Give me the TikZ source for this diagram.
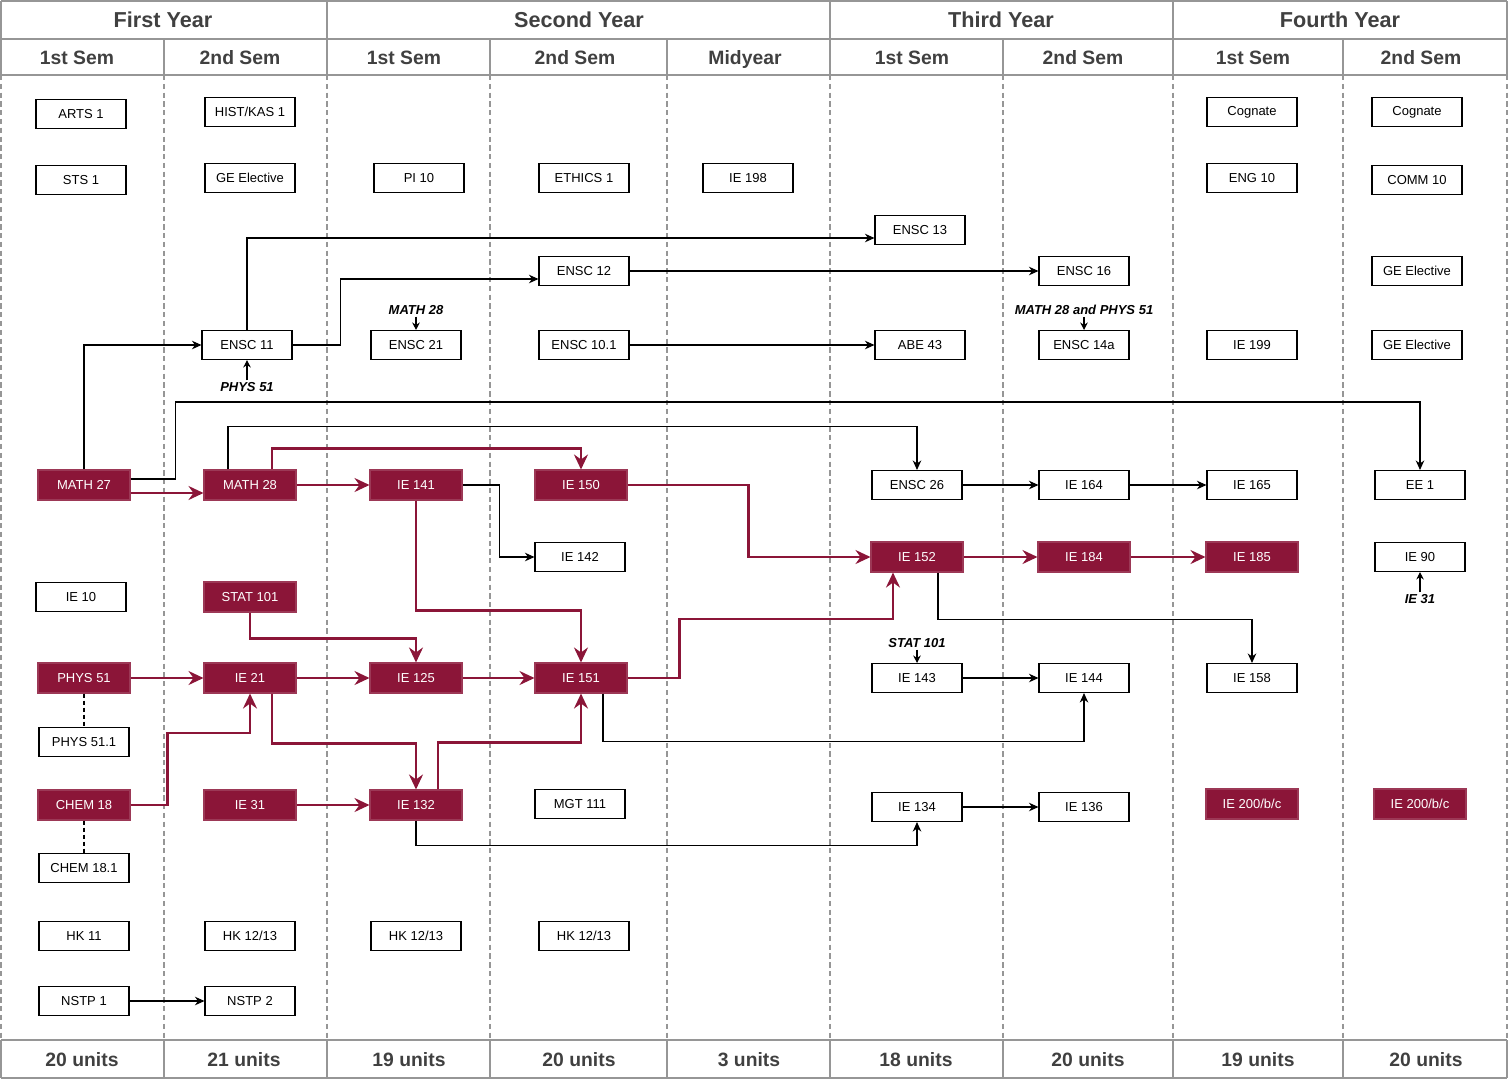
\documentclass[tikz,border=0pt]{standalone}
\usepackage{fontspec}
\setmainfont{Liberation Sans}
\usetikzlibrary{arrows.meta,calc}
\definecolor{maroon}{RGB}{139,21,56}
\definecolor{gridc}{RGB}{150,150,150}
\definecolor{headc}{RGB}{64,64,64}
\begin{document}
\begin{tikzpicture}[x=0.02cm,y=-0.02cm,
  course/.style={draw=black, line width=0.6pt, fill=white, minimum width=1.8cm, minimum height=0.58cm, inner sep=0pt, font=\fontsize{7.4}{9}\selectfont},
  core/.style={draw=maroon!85!white, line width=0.6pt, fill=maroon, text=white, minimum width=1.84cm, minimum height=0.6cm, inner sep=0pt, font=\fontsize{7.4}{9}\selectfont},
  lbl/.style={inner sep=1pt, font=\fontsize{7.4}{9}\selectfont\bfseries\itshape},
  yhead/.style={text=headc, text height=1.5ex, text depth=0.4ex, inner sep=0pt, font=\fontsize{12.3}{14}\selectfont\bfseries},
  shead/.style={text=headc, text height=1.5ex, text depth=0.4ex, inner sep=0pt, font=\fontsize{11}{13}\selectfont\bfseries},
  blk/.style={draw=black, line width=0.6pt, -{Stealth[length=1.9mm,width=1.7mm,inset=0.6mm]}},
  blkl/.style={draw=black, line width=0.6pt, -{Stealth[length=1.5mm,width=1.5mm,inset=0.5mm]}},
  rd/.style={draw=maroon, line width=1.3pt, -{Stealth[length=3mm,width=2.8mm,inset=1mm]}},
  solidg/.style={draw=gridc, line width=1pt},
  dashg/.style={draw=gridc, line width=0.8pt, dash pattern=on 3pt off 2pt}
]
\useasboundingbox (0,0) rectangle (1509,1080);
% ---------- grid ----------
\draw[solidg] (1,1) -- (1507,1) (1,39) -- (1507,39) (1,75) -- (1507,75) (1,1040) -- (1507,1040) (1,1078) -- (1507,1078);
\draw[solidg] (1,1) -- (1,75) (1507,1) -- (1507,75) (1,1040) -- (1,1078) (1507,1040) -- (1507,1078);
\foreach \x in {327,830,1173} \draw[solidg] (\x,1) -- (\x,39);
\foreach \x in {164,327,490,667,830,1003,1173,1343} {
  \draw[solidg] (\x,39) -- (\x,75);
  \draw[solidg] (\x,1040) -- (\x,1078);
  \draw[dashg] (\x,75) -- (\x,1040);
}
\draw[dashg] (1,75) -- (1,1040) (1507,75) -- (1507,1040);
% headers
\node[yhead] (hy1) at (163,22) {First Year};
\node[yhead] (hy2) at (579,22) {Second Year};
\node[yhead] (hy3) at (1001,22) {Third Year};
\node[yhead] (hy4) at (1340,22) {Fourth Year};
\node[shead] (hs1) at (77,59) {1st Sem};
\node[shead] (hs2) at (240,59) {2nd Sem};
\node[shead] (hs3) at (404,59) {1st Sem};
\node[shead] (hs4) at (575,59) {2nd Sem};
\node[shead] (hs5) at (745,59) {Midyear};
\node[shead] (hs6) at (912,59) {1st Sem};
\node[shead] (hs7) at (1083,59) {2nd Sem};
\node[shead] (hs8) at (1253,59) {1st Sem};
\node[shead] (hs9) at (1421,59) {2nd Sem};
\node[shead] (u1) at (82,1061) {20 units};
\node[shead] (u2) at (244,1061) {21 units};
\node[shead] (u3) at (409,1061) {19 units};
\node[shead] (u4) at (579,1061) {20 units};
\node[shead] (u5) at (749,1061) {3 units};
\node[shead] (u6) at (916,1061) {18 units};
\node[shead] (u7) at (1088,1061) {20 units};
\node[shead] (u8) at (1258,1061) {19 units};
\node[shead] (u9) at (1426,1061) {20 units};
% ---------- column 1 ----------
\node[course] (arts1) at (81,114) {ARTS 1};
\node[course] (sts1) at (81,180) {STS 1};
\node[core] (math27) at (84,485) {MATH 27};
\node[course] (ie10) at (81,597) {IE 10};
\node[core] (phys51) at (84,678) {PHYS 51};
\node[course] (phys511) at (84,742) {PHYS 51.1};
\node[core] (chem18) at (84,805) {CHEM 18};
\node[course] (chem181) at (84,868) {CHEM 18.1};
\node[course] (hk11) at (84,936) {HK 11};
\node[course] (nstp1) at (84,1001) {NSTP 1};
% ---------- column 2 ----------
\node[course] (hist) at (250,112) {HIST/KAS 1};
\node[course] (ge1) at (250,178) {GE Elective};
\node[course] (ensc11) at (247,345) {ENSC 11};
\node[core] (math28) at (250,485) {MATH 28};
\node[core] (stat101) at (250,597) {STAT 101};
\node[core] (ie21) at (250,678) {IE 21};
\node[core] (ie31) at (250,805) {IE 31};
\node[course] (hk2) at (250,936) {HK 12/13};
\node[course] (nstp2) at (250,1001) {NSTP 2};
% ---------- column 3 ----------
\node[course] (pi10) at (419,178) {PI 10};
\node[course] (ensc21) at (416,345) {ENSC 21};
\node[core] (ie141) at (416,485) {IE 141};
\node[core] (ie125) at (416,678) {IE 125};
\node[core] (ie132) at (416,805) {IE 132};
\node[course] (hk3) at (416,936) {HK 12/13};
% ---------- column 4 ----------
\node[course] (ethics1) at (584,178) {ETHICS 1};
\node[course] (ensc12) at (584,271) {ENSC 12};
\node[course] (ensc101) at (584,345) {ENSC 10.1};
\node[core] (ie150) at (581,485) {IE 150};
\node[course] (ie142) at (580,557) {IE 142};
\node[core] (ie151) at (581,678) {IE 151};
\node[course] (mgt111) at (580,804) {MGT 111};
\node[course] (hk4) at (584,936) {HK 12/13};
% ---------- column 5 ----------
\node[course] (ie198) at (748,178) {IE 198};
% ---------- column 6 ----------
\node[course] (ensc13) at (920,230) {ENSC 13};
\node[course] (abe43) at (920,345) {ABE 43};
\node[course] (ensc26) at (917,485) {ENSC 26};
\node[core] (ie152) at (917,557) {IE 152};
\node[course] (ie143) at (917,678) {IE 143};
\node[course] (ie134) at (917,807) {IE 134};
% ---------- column 7 ----------
\node[course] (ensc16) at (1084,271) {ENSC 16};
\node[course] (ensc14a) at (1084,345) {ENSC 14a};
\node[course] (ie164) at (1084,485) {IE 164};
\node[core] (ie184) at (1084,557) {IE 184};
\node[course] (ie144) at (1084,678) {IE 144};
\node[course] (ie136) at (1084,807) {IE 136};
% ---------- column 8 ----------
\node[course] (cog1) at (1252,112) {Cognate};
\node[course] (eng10) at (1252,178) {ENG 10};
\node[course] (ie199) at (1252,345) {IE 199};
\node[course] (ie165) at (1252,485) {IE 165};
\node[core] (ie185) at (1252,557) {IE 185};
\node[course] (ie158) at (1252,678) {IE 158};
\node[core] (ie200a) at (1252,804) {IE 200/b/c};
% ---------- column 9 ----------
\node[course] (cog2) at (1417,112) {Cognate};
\node[course] (comm10) at (1417,180) {COMM 10};
\node[course] (ge3) at (1417,271) {GE Elective};
\node[course] (ge4) at (1417,345) {GE Elective};
\node[course] (ee1) at (1420,485) {EE 1};
\node[course] (ie90) at (1420,557) {IE 90};
\node[core] (ie200b) at (1420,804) {IE 200/b/c};
% ---------- labels ----------
\node[lbl] (lmath28) at (416,310) {MATH 28};
\node[lbl] (lphys51) at (247,387) {PHYS 51};
\node[lbl] (lmp) at (1084,310) {MATH 28 and PHYS 51};
\node[lbl] (lstat) at (917,643) {STAT 101};
\node[lbl] (lie31) at (1420,599) {IE 31};
\draw[blkl] (lmath28.south) -- (ensc21.north);
\draw[blkl] (lphys51.north) -- (ensc11.south);
\draw[blkl] (lmp.south) -- (ensc14a.north);
\draw[blkl] (lstat.south) -- (ie143.north);
\draw[blkl] (lie31.north) -- (ie90.south);
% ---------- black connectors ----------
\draw[blk] (math27.north) |- (ensc11.west);
\draw[blk] (ensc11.north) |- ($(ensc13.west)+(0,8)$);
\draw[blk] (ensc11.east) -- ++(48,0) |- ($(ensc12.west)+(0,8)$);
\draw[blk] (ensc12.east) -- (ensc16.west);
\draw[blk] (ensc101.east) -- (abe43.west);
\draw[blk] ($(math27.east)+(0,-6)$) -- ++(45,0) -- ++(0,-77) -| (ee1.north);
\draw[blk] ($(math28.north)+(-22,0)$) -- ++(0,-43) -| (ensc26.north);
\draw[blk] (ie141.east) -- ++(37,0) |- (ie142.west);
\draw[blk] (ensc26.east) -- (ie164.west);
\draw[blk] (ie164.east) -- (ie165.west);
\draw[blk] ($(ie152.south)+(21,0)$) -- ++(0,47) -| (ie158.north);
\draw[blk] (ie143.east) -- (ie144.west);
\draw[blk] ($(ie151.south)+(22,0)$) -- ++(0,48) -| (ie144.south);
\draw[blk] (ie132.south) -- ++(0,25) -| (ie134.south);
\draw[blk] (ie134.east) -- (ie136.west);
\draw[blk] (nstp1.east) -- (nstp2.west);
\draw[draw=black, line width=0.6pt, dash pattern=on 2.5pt off 1.5pt] (phys51.south) -- (phys511.north);
\draw[draw=black, line width=0.6pt, dash pattern=on 2.5pt off 1.5pt] (chem18.south) -- (chem181.north);
% ---------- red connectors ----------
\draw[rd] ($(math27.east)+(0,8)$) -- ($(math28.west)+(0,8)$);
\draw[rd] ($(math28.north)+(22,0)$) -- ++(0,-21) -| (ie150.north);
\draw[rd] (math28.east) -- (ie141.west);
\draw[rd] (ie141.south) -- ++(0,110) -| (ie151.north);
\draw[rd] (ie150.east) -- ++(121,0) |- (ie152.west);
\draw[rd] (ie152.east) -- (ie184.west);
\draw[rd] (ie184.east) -- (ie185.west);
\draw[rd] (stat101.south) -- ++(0,26) -| (ie125.north);
\draw[rd] (phys51.east) -- (ie21.west);
\draw[rd] (ie21.east) -- (ie125.west);
\draw[rd] (ie125.east) -- (ie151.west);
\draw[rd] (ie151.east) -- ++(52,0) -- ++(0,-59) -| ($(ie152.south)+(-24,0)$);
\draw[rd] ($(ie21.south)+(22,0)$) -- ++(0,50) -| (ie132.north);
\draw[rd] (chem18.east) -- ++(37,0) -- ++(0,-72) -| (ie21.south);
\draw[rd] (ie31.east) -- (ie132.west);
\draw[rd] ($(ie132.north)+(22,0)$) -- ++(0,-47) -| (ie151.south);
\end{tikzpicture}
\end{document}
